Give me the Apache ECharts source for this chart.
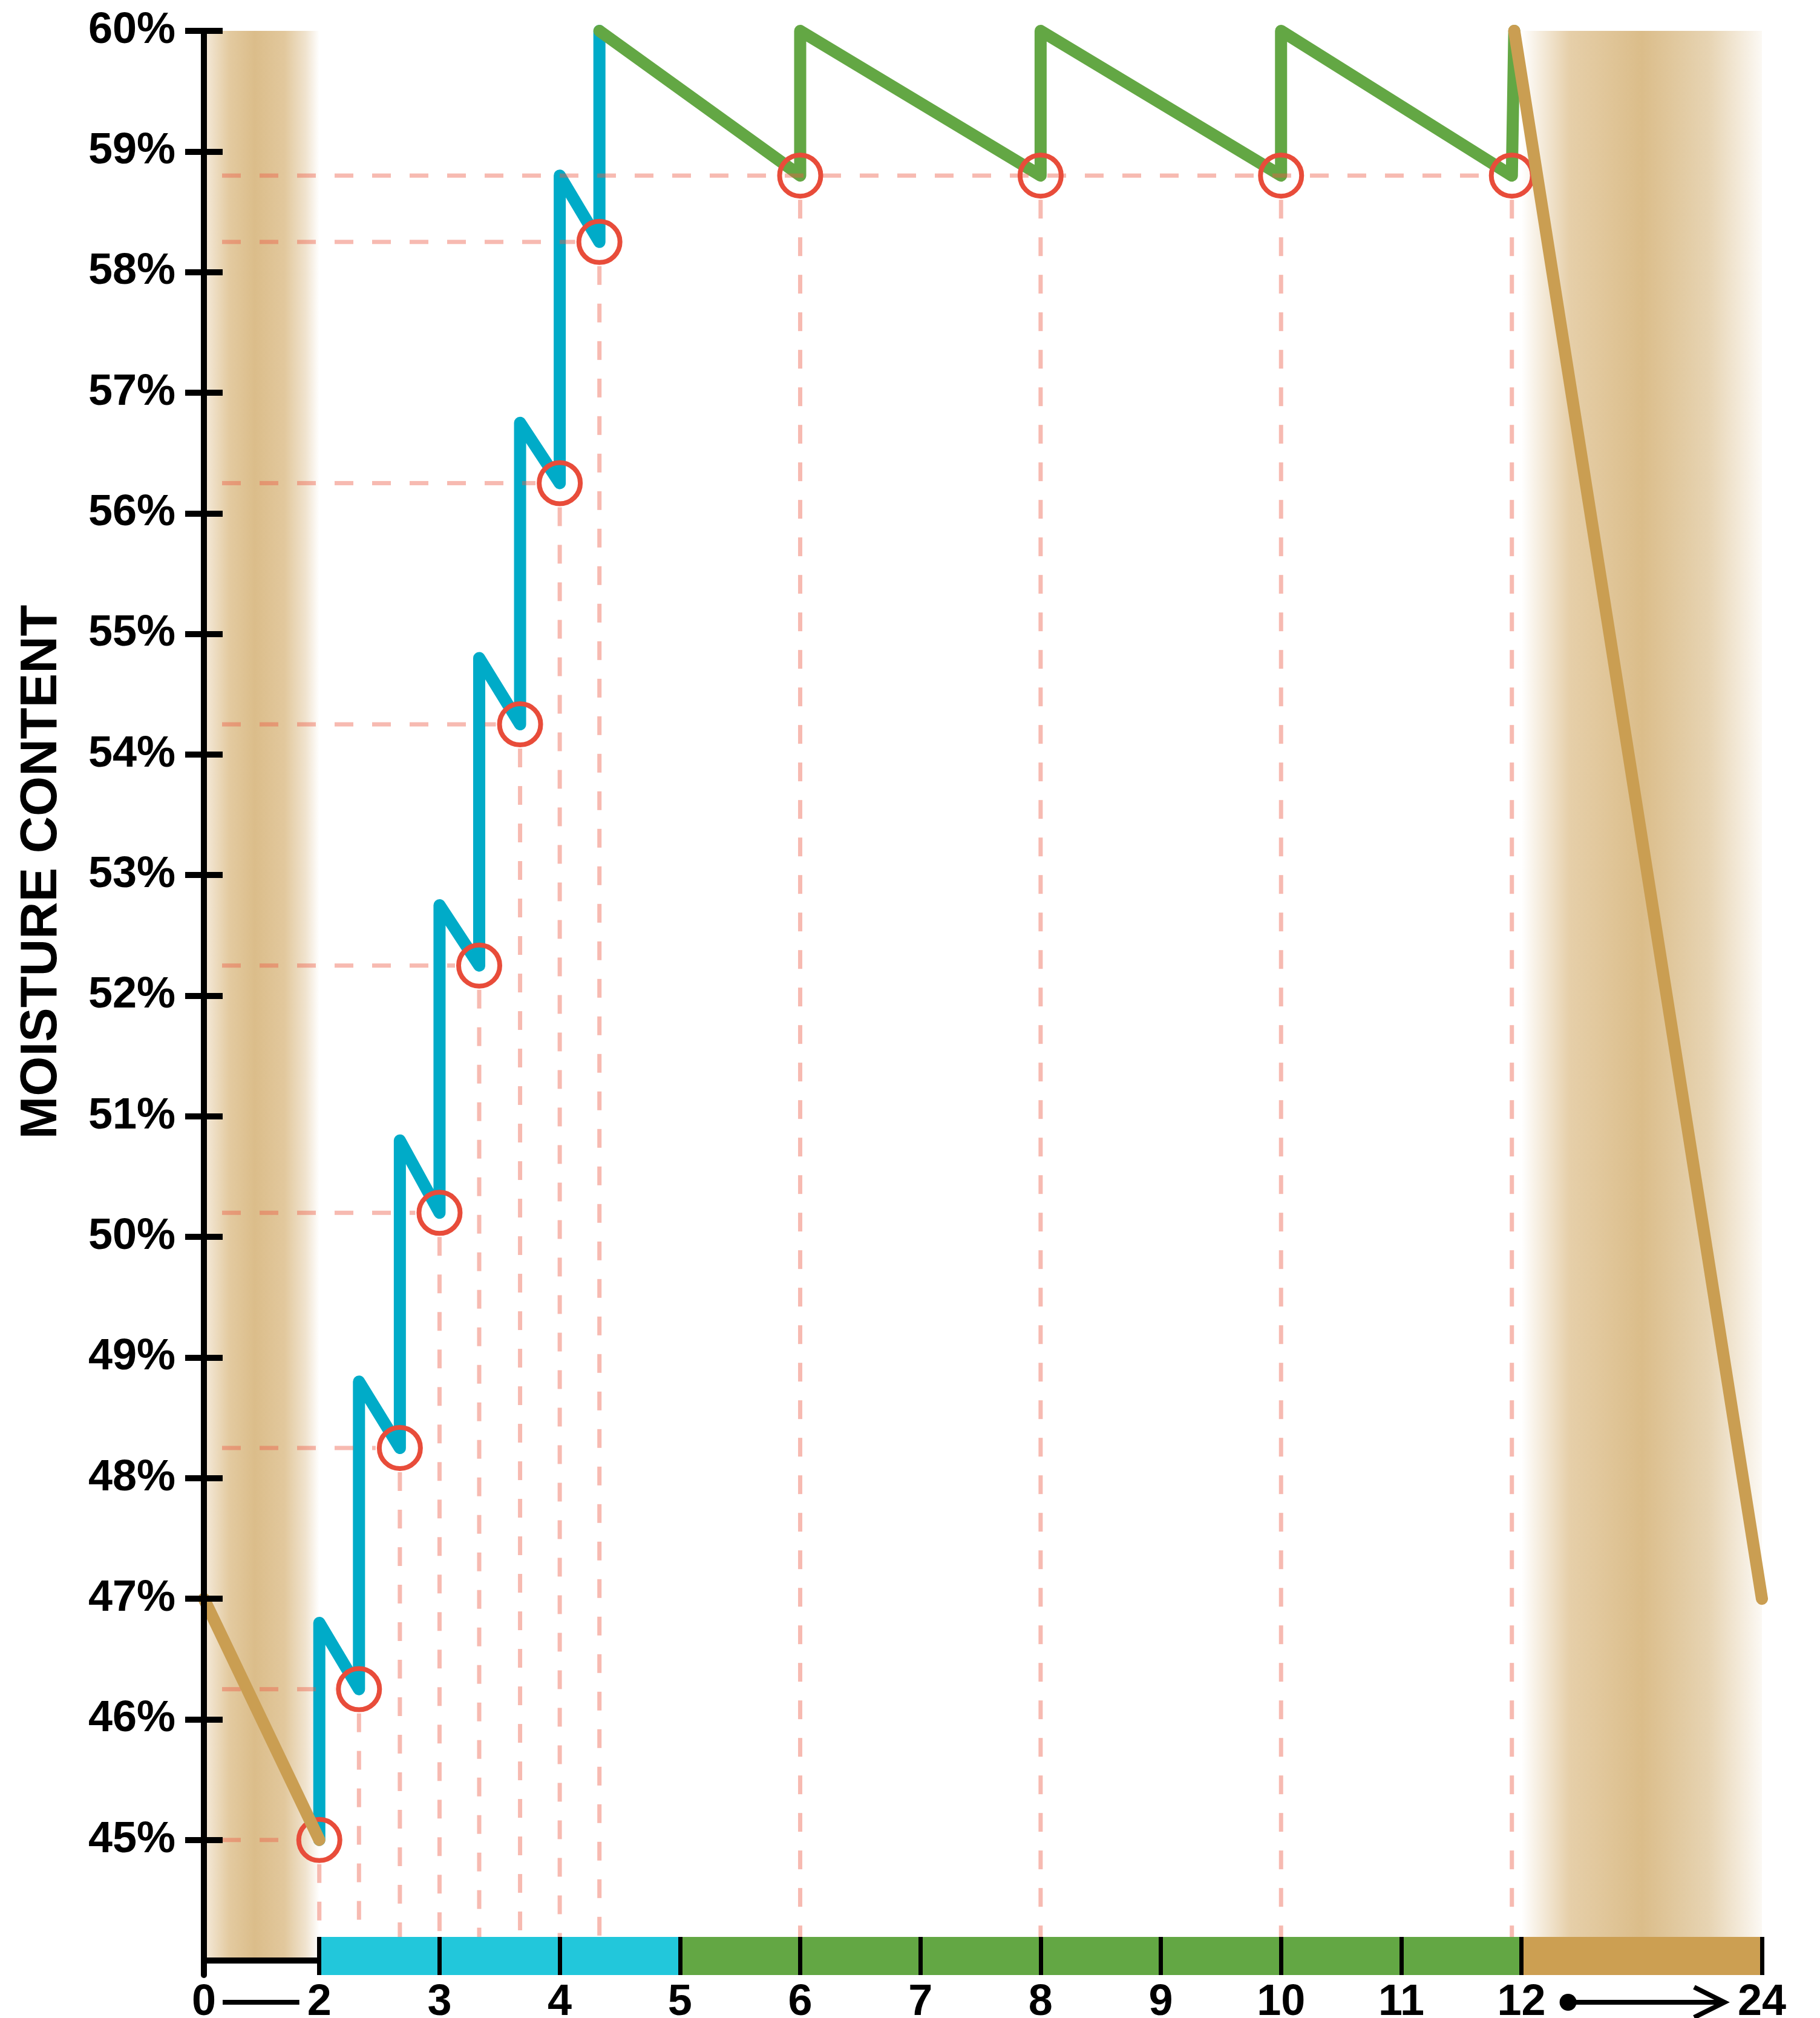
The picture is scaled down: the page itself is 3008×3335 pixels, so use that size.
<!DOCTYPE html>
<html>
<head>
<meta charset="utf-8">
<script src="https://cdn.jsdelivr.net/npm/echarts@6.0.0/dist/echarts.min.js"></script>
<style>
html,body{margin:0;padding:0;background:#ffffff;}
#chart{width:3008px;height:3335px;}
</style>
</head>
<body>
<div id="chart"></div>
<script>
// ---------- DATA ----------
const hourTicks = [0, 2, 3, 4, 5, 6, 7, 8, 9, 10, 11, 12, 24];
const hourLabels = ['0', '2', '3', '4', '5', '6', '7', '8', '9', '10', '11', '12', '24'];
const barTickHours = [2, 3, 4, 5, 6, 7, 8, 9, 10, 11, 12, 24];
const moistureTicks = [45, 46, 47, 48, 49, 50, 51, 52, 53, 54, 55, 56, 57, 58, 59, 60];

// drying before irrigation starts (hour 0 -> 2)
const preDryHours = [0, 2];
const preDryMoisture = [47, 45];

// frequent irrigation pulses (hour 2 -> 4.33)
const pulseHours = [2, 2, 2.33, 2.33, 2.67, 2.67, 3, 3, 3.33, 3.33, 3.67, 3.67, 4, 4, 4.33, 4.33];
const pulseMoisture = [45, 46.8, 46.25, 48.8, 48.25, 50.8, 50.2, 52.75, 52.25, 54.8, 54.25, 56.75, 56.25, 58.8, 58.25, 60];

// maintenance irrigation (hour 4.33 -> 12)
const maintainHours = [4.33, 6, 6, 8, 8, 10, 10, 11.92, 11.94];
const maintainMoisture = [60, 58.8, 60, 58.8, 60, 58.8, 60, 58.8, 60];

// dry-down (hour 12 -> 24)
const dryDownHours = [11.94, 24];
const dryDownMoisture = [60, 47];

// irrigation trigger points (circles)
const triggerHours = [2, 2.33, 2.67, 3, 3.33, 3.67, 4, 4.33, 6, 8, 10, 11.92];
const triggerMoisture = [45, 46.25, 48.25, 50.2, 52.25, 54.25, 56.25, 58.25, 58.8, 58.8, 58.8, 58.8];

// phases on the bottom strip
const phaseStart = [0, 2, 5, 12];
const phaseEnd = [2, 5, 12, 24];
const phaseKind = [0, 1, 2, 3]; // 0 = plain axis, 1 = ramp-up, 2 = maintenance, 3 = dry-down

// dry periods (shaded bands)
const dryStart = [0, 12];
const dryEnd = [2, 24];
const dryKind = [0, 1];

// ---------- AXIS MAPPING (compressed 0-2 and 12-24 ranges) ----------
const hourAnchors = [0, 2, 12, 24];
const axisAnchors = [1.04, 2, 12, 14];
function toAxis(h) {
  for (let i = 0; i < hourAnchors.length - 1; i++) {
    const a = hourAnchors[i], b = hourAnchors[i + 1];
    if (h <= b || i === hourAnchors.length - 2) {
      return axisAnchors[i] + (h - a) / (b - a) * (axisAnchors[i + 1] - axisAnchors[i]);
    }
  }
}
const Y_MIN = 43.88, Y_MAX = 60, BASE = 44;
const X_MIN = toAxis(0), X_MAX = toAxis(24);

// ---------- STYLE ----------
const FONT = '"Liberation Sans", Arial, Helvetica, sans-serif';
const CYAN = '#00ABC8', GREEN = '#63A744', TAN = '#CA9E52', RED = '#E84C3A';
const GUIDE = 'rgba(235,90,70,0.42)';
const phaseColors = ['#000000', '#22C7DB', '#63A744', '#CC9F52'];
const bandGradients = [
  [[0, '#F5EBDC'], [0.22, '#E3CAA0'], [0.44, '#DBBD8A'], [0.7, '#E2C89D'], [0.88, '#F0E3CE'], [1, '#FFFFFF']],
  [[0, '#FFFFFF'], [0.2, '#E6CFA9'], [0.5, '#DBBD8A'], [0.78, '#E7D4B3'], [1, '#FCF9F4']]
];
const BAR_H = 63;

const zip = (xs, ys) => xs.map((h, i) => [toAxis(h), ys[i]]);

// horizontal guide only from the right-most trigger at each level
const triggerData = triggerHours.map((h, i) => {
  const y = triggerMoisture[i];
  const hasRight = triggerHours.some((h2, j) => h2 > h && Math.abs(triggerMoisture[j] - y) < 1e-6);
  return [toAxis(h), y, hasRight ? 0 : 1];
});

const chart = echarts.init(document.getElementById('chart'), null, { renderer: 'canvas' });

const option = {
  animation: false,
  backgroundColor: '#ffffff',
  grid: { left: 337, right: 96, top: 51, bottom: 71, containLabel: false, outerBoundsMode: 'none' },
  xAxis: {
    type: 'value', min: X_MIN, max: X_MAX, z: 10,
    axisLine: { show: false },
    splitLine: { show: false },
    axisTick: {
      show: true, inside: true, length: BAR_H,
      customValues: barTickHours.map(toAxis),
      lineStyle: { color: '#000', width: 7 }
    },
    axisLabel: {
      show: true, margin: 10,
      customValues: hourTicks.map(toAxis),
      formatter: function (v) {
        const i = hourTicks.findIndex(h => Math.abs(toAxis(h) - v) < 1e-6);
        return i >= 0 ? hourLabels[i] : '';
      },
      fontFamily: FONT, fontWeight: 'bold', fontSize: 72, color: '#000'
    }
  },
  yAxis: [
    {
      type: 'value', min: Y_MIN, max: Y_MAX, z: 10,
      axisLine: { show: true, lineStyle: { color: '#000', width: 10 } },
      splitLine: { show: false },
      axisTick: { show: true, inside: false, length: 31, customValues: moistureTicks, lineStyle: { color: '#000', width: 10 } },
      axisLabel: {
        show: true, margin: 47, customValues: moistureTicks,
        formatter: v => Math.round(v) + '%',
        fontFamily: FONT, fontWeight: 'bold', fontSize: 72, color: '#000'
      }
    },
    {
      type: 'value', min: Y_MIN, max: Y_MAX, position: 'left', z: 10,
      axisLine: { show: false },
      splitLine: { show: false },
      axisTick: { show: true, inside: true, length: 31, customValues: moistureTicks, lineStyle: { color: '#000', width: 10 } },
      axisLabel: { show: false }
    }
  ],
  graphic: [{
    type: 'text', x: 70, y: 1441, rotation: Math.PI / 2, z: 100,
    style: { text: 'MOISTURE CONTENT', font: 'bold 85px ' + FONT, fill: '#000', align: 'center', verticalAlign: 'middle' }
  }],
  series: [
    {
      name: 'dry bands', type: 'custom', z: 1, silent: true,
      data: dryStart.map((s, i) => [toAxis(s), toAxis(dryEnd[i]), dryKind[i]]),
      renderItem: function (params, api) {
        const x0 = api.coord([api.value(0), Y_MAX])[0];
        const x1 = api.coord([api.value(1), Y_MAX])[0];
        const top = api.coord([api.value(0), Y_MAX])[1];
        const bot = api.coord([api.value(0), BASE])[1];
        const stops = bandGradients[api.value(2)].map(s => ({ offset: s[0], color: s[1] }));
        return {
          type: 'rect',
          shape: { x: x0, y: top, width: x1 - x0, height: bot - top },
          style: { fill: new echarts.graphic.LinearGradient(0, 0, 1, 0, stops) }
        };
      }
    },
    {
      name: 'ramp-up', type: 'line', z: 3, clip: false, symbol: 'none',
      data: zip(pulseHours, pulseMoisture),
      lineStyle: { color: CYAN, width: 20, cap: 'round', join: 'round' }
    },
    {
      name: 'maintenance', type: 'line', z: 3, clip: false, symbol: 'none',
      data: zip(maintainHours, maintainMoisture),
      lineStyle: { color: GREEN, width: 20, cap: 'round', join: 'round' }
    },
    {
      name: 'guides', type: 'custom', z: 4, silent: true,
      data: triggerData,
      renderItem: function (params, api) {
        const cs = params.coordSys;
        const bottom = cs.y + cs.height;
        const p = api.coord([api.value(0), api.value(1)]);
        const style = { stroke: GUIDE, lineWidth: 7, lineDash: [31, 31], fill: null };
        const children = [];
        if (api.value(2) === 1) {
          children.push({ type: 'line', shape: { x1: cs.x + 30, y1: p[1], x2: p[0] - 40, y2: p[1] }, style: style });
        }
        children.push({ type: 'line', shape: { x1: p[0], y1: p[1] + 40, x2: p[0], y2: bottom - BAR_H }, style: style });
        return { type: 'group', children: children };
      }
    },
    {
      name: 'triggers', type: 'scatter', z: 5, clip: false,
      data: zip(triggerHours, triggerMoisture),
      symbol: 'circle', symbolSize: 68,
      itemStyle: { color: 'rgba(0,0,0,0)', borderColor: RED, borderWidth: 8, opacity: 1 }
    },
    {
      name: 'pre-dry', type: 'line', z: 6, clip: false, symbol: 'none',
      data: zip(preDryHours, preDryMoisture),
      lineStyle: { color: TAN, width: 20, cap: 'round', join: 'round' }
    },
    {
      name: 'dry-down', type: 'line', z: 6, clip: false, symbol: 'none',
      data: zip(dryDownHours, dryDownMoisture),
      lineStyle: { color: TAN, width: 20, cap: 'round', join: 'round' }
    },
    {
      name: 'phases', type: 'custom', z: 7, silent: true,
      data: phaseStart.map((s, i) => [toAxis(s), toAxis(phaseEnd[i]), phaseKind[i]]),
      renderItem: function (params, api) {
        const cs = params.coordSys;
        const bottom = cs.y + cs.height;
        const x0 = api.coord([api.value(0), BASE])[0];
        const x1 = api.coord([api.value(1), BASE])[0];
        const k = api.value(2);
        if (k === 0) {
          const yl = api.coord([api.value(0), BASE])[1];
          return { type: 'line', shape: { x1: x0, y1: yl, x2: x1, y2: yl }, style: { stroke: '#000', lineWidth: 10 } };
        }
        return { type: 'rect', shape: { x: x0, y: bottom - BAR_H, width: x1 - x0, height: BAR_H }, style: { fill: phaseColors[k] } };
      }
    },
    {
      name: 'label connectors', type: 'custom', z: 7, silent: true, clip: false,
      data: [[toAxis(0), toAxis(2), 0], [toAxis(12), toAxis(24), 1]],
      renderItem: function (params, api) {
        const cs = params.coordSys;
        const y = cs.y + cs.height + 45;
        const x0 = api.coord([api.value(0), BASE])[0];
        const x1 = api.coord([api.value(1), BASE])[0];
        if (api.value(2) === 0) {
          return { type: 'line', shape: { x1: x0 + 31, y1: y, x2: x1 - 33, y2: y }, style: { stroke: '#000', lineWidth: 8 } };
        }
        return {
          type: 'group', children: [
            { type: 'line', shape: { x1: x0 + 77, y1: y, x2: x1 - 66, y2: y }, style: { stroke: '#000', lineWidth: 8 } },
            { type: 'circle', shape: { cx: x0 + 77, cy: y, r: 14 }, style: { fill: '#000' } },
            { type: 'polyline', shape: { points: [[x1 - 112, y - 25], [x1 - 62, y], [x1 - 112, y + 25]] }, style: { stroke: '#000', lineWidth: 8, fill: null } }
          ]
        };
      }
    }
  ]
};
chart.setOption(option);
</script>
</body>
</html>
